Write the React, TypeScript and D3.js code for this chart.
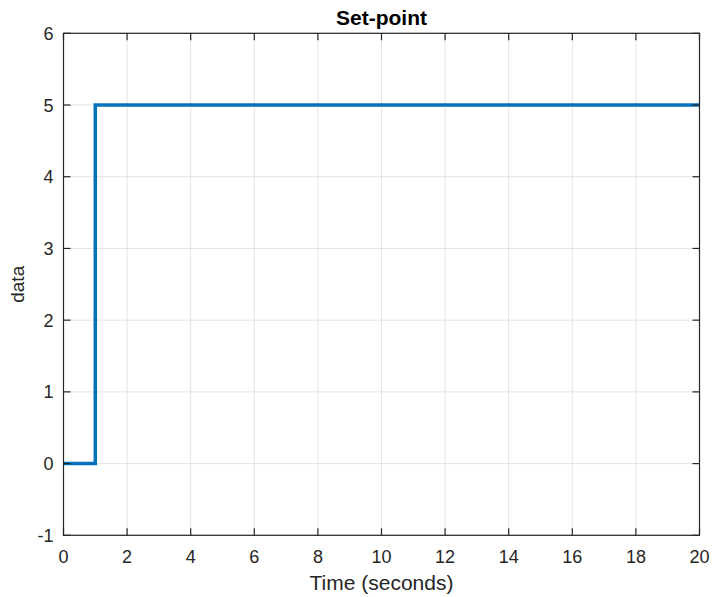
import React from "react";
import * as d3 from "d3";

const times = [0, 1, 1, 20];
const values = [0, 0, 5, 5];
const xTicks = [0, 2, 4, 6, 8, 10, 12, 14, 16, 18, 20];
const yTicks = [-1, 0, 1, 2, 3, 4, 5, 6];
const title = "Set-point";
const xLabel = "Time (seconds)";
const yLabel = "data";

export default function App() {
  const W = 712, H = 597;
  const L = 63.5, R = 699.5, T = 33.3, B = 535.3;
  const x = d3.scaleLinear().domain([0, 20]).range([L, R]);
  const y = d3.scaleLinear().domain([-1, 6]).range([B, T]);
  const pts: [number, number][] = times.map((t, i) => [t, values[i]]);
  const line = d3.line<[number, number]>().x(d => x(d[0])).y(d => y(d[1]));
  const font = "'Liberation Sans', Arial, sans-serif";
  const tk = 7;
  return (
    <svg width={W} height={H} style={{ position: "absolute", left: 0, top: 0 }} fontFamily={font}>
      <rect x={0} y={0} width={W} height={H} fill="#fff" />
      {xTicks.map(t => (
        <line key={"gx" + t} x1={x(t)} x2={x(t)} y1={T} y2={B} stroke="#e3e3e3" strokeWidth={1} />
      ))}
      {yTicks.map(t => (
        <line key={"gy" + t} x1={L} x2={R} y1={y(t)} y2={y(t)} stroke="#e3e3e3" strokeWidth={1} />
      ))}
      <path d={line(pts) || ""} fill="none" stroke="#0072BD" strokeWidth={3.5} strokeLinejoin="miter" />
      <rect x={L} y={T} width={R - L} height={B - T} fill="none" stroke="#262626" strokeWidth={1.2} />
      {xTicks.map(t => (
        <g key={"tx" + t}>
          <line x1={x(t)} x2={x(t)} y1={B} y2={B - tk} stroke="#262626" strokeWidth={1.2} />
          <line x1={x(t)} x2={x(t)} y1={T} y2={T + tk} stroke="#262626" strokeWidth={1.2} />
          <text x={x(t)} y={B + 28} textAnchor="middle" fontSize={18} fill="#262626">{t}</text>
        </g>
      ))}
      {yTicks.map(t => (
        <g key={"ty" + t}>
          <line x1={L} x2={L + tk} y1={y(t)} y2={y(t)} stroke="#262626" strokeWidth={1.2} />
          <line x1={R} x2={R - tk} y1={y(t)} y2={y(t)} stroke="#262626" strokeWidth={1.2} />
          <text x={L - 10} y={y(t) + 6.5} textAnchor="end" fontSize={18} fill="#262626">{t}</text>
        </g>
      ))}
      <text x={(L + R) / 2} y={25} textAnchor="middle" fontSize={21} fontWeight="bold" fill="#000">{title}</text>
      <text x={(L + R) / 2} y={590} textAnchor="middle" fontSize={21} fill="#262626">{xLabel}</text>
      <text transform={`translate(24,${(T + B) / 2}) rotate(-90)`} textAnchor="middle" fontSize={19} fill="#262626">{yLabel}</text>
    </svg>
  );
}
